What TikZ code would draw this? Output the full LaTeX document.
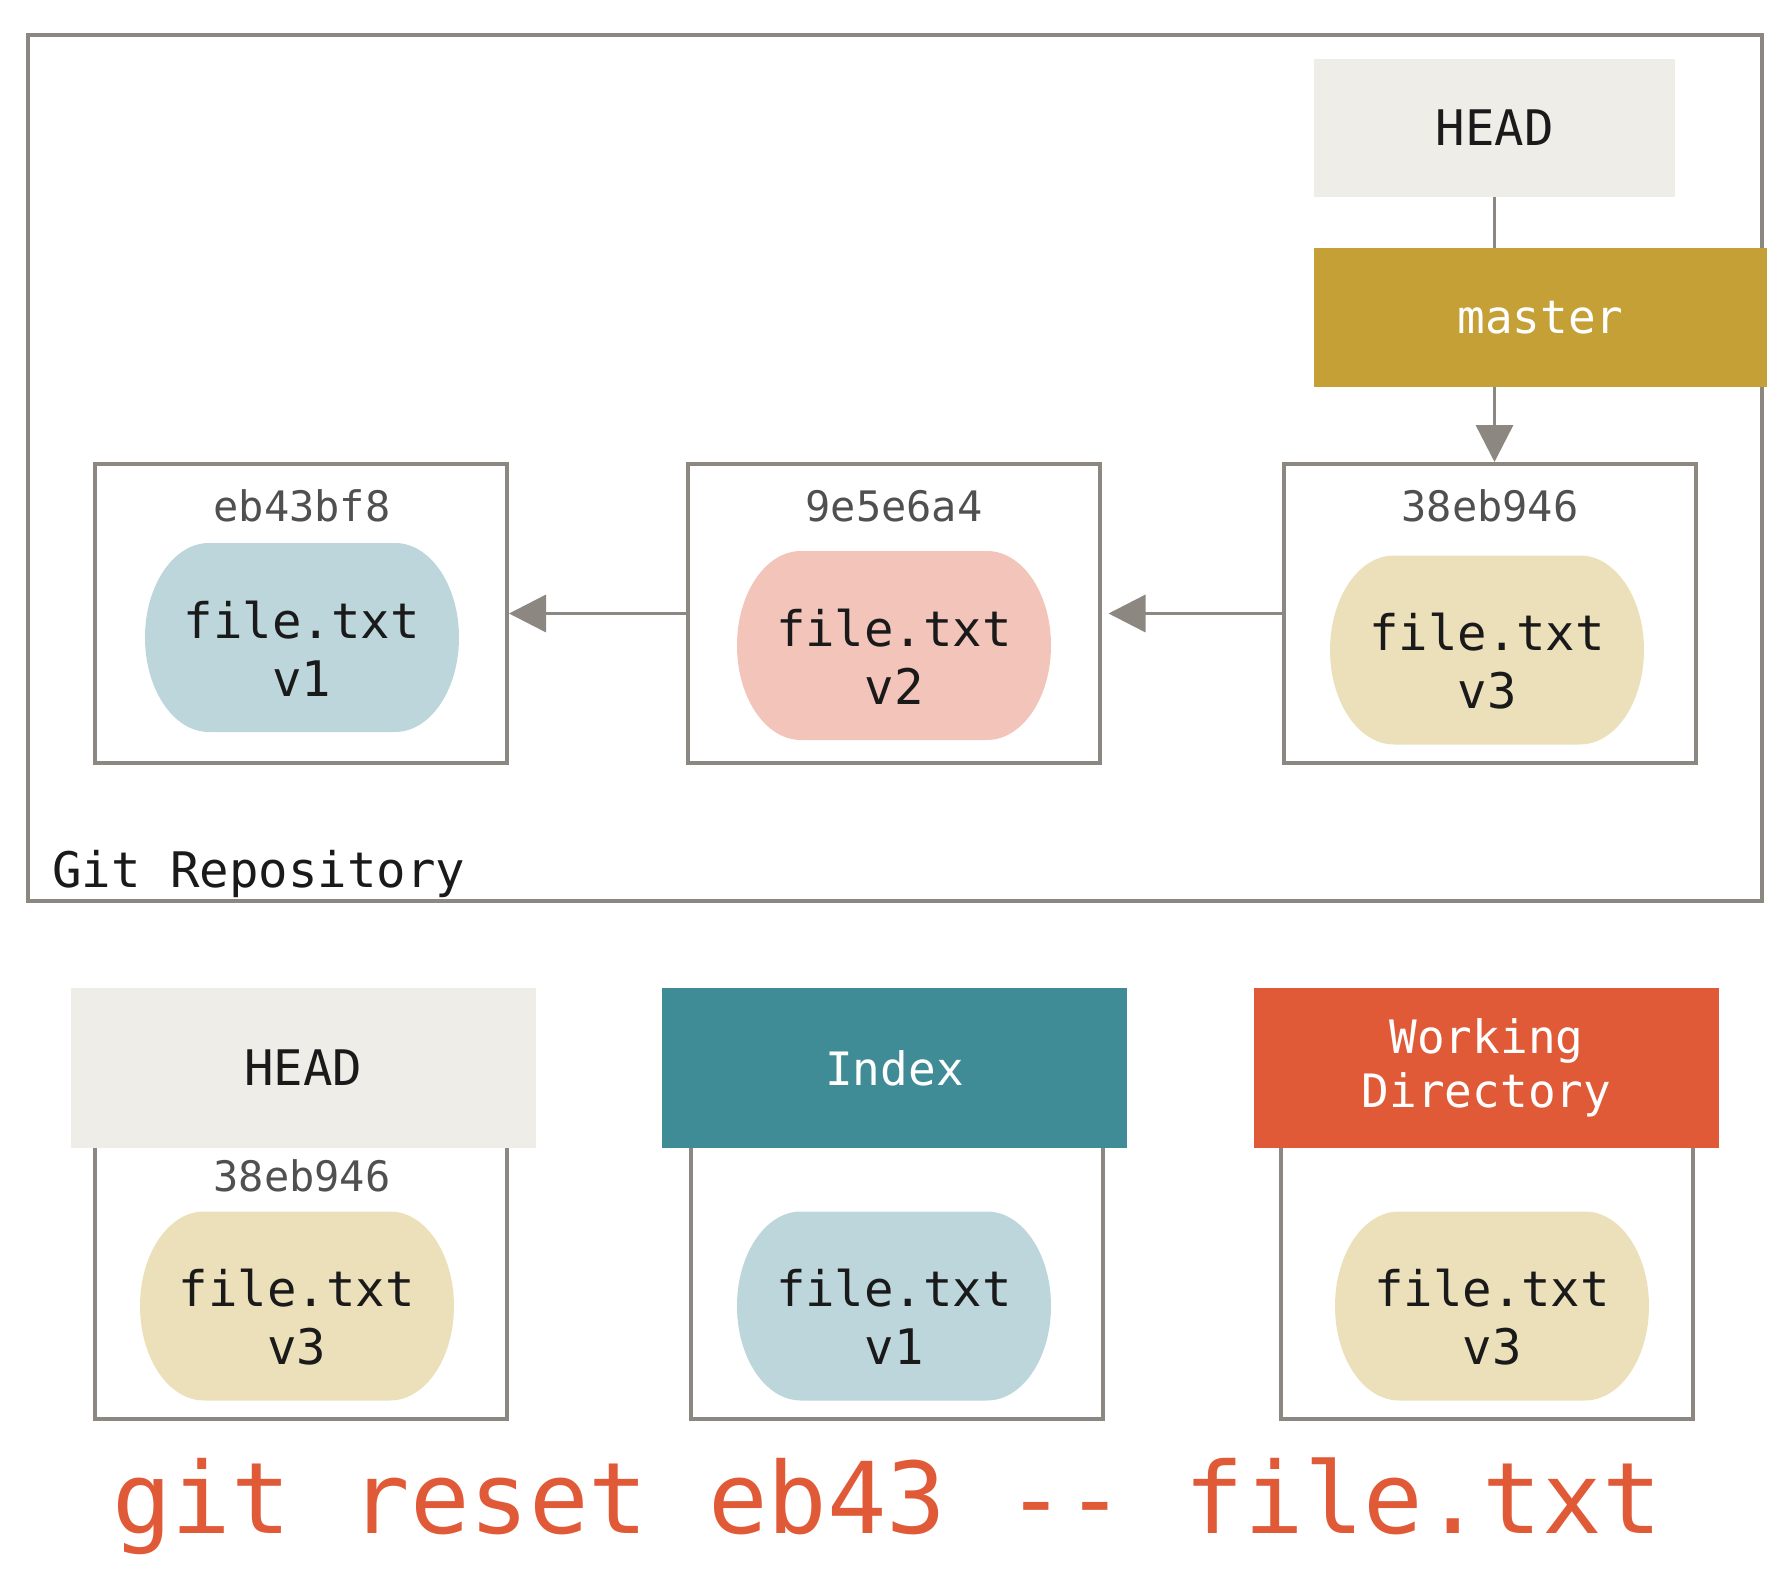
\documentclass[tikz,border=0pt]{standalone}
\usepackage{fontspec}
\setmonofont{DejaVu Sans Mono}
\usetikzlibrary{arrows.meta}
\definecolor{linegray}{RGB}{140,135,129}
\definecolor{headfill}{RGB}{238,237,232}
\definecolor{masterfill}{RGB}{196,160,54}
\definecolor{indexfill}{RGB}{64,140,150}
\definecolor{wdfill}{RGB}{224,90,56}
\definecolor{blueblob}{RGB}{188,214,219}
\definecolor{pinkblob}{RGB}{243,196,185}
\definecolor{tanblob}{RGB}{236,224,187}
\definecolor{hashgray}{RGB}{80,80,80}
\definecolor{cmdorange}{RGB}{224,90,56}
\definecolor{inkblack}{RGB}{26,26,26}
\newcommand\fs[2]{\fontsize{#1}{#2}\selectfont\ttfamily}
% name, x, y, colour, version
\newcommand\blobat[5]{%
  \fill[#4] (#2-93,#3-94.5) -- (#2+93,#3-94.5)
     arc[start angle=-90,end angle=90,x radius=64,y radius=94.5]
     -- (#2-93,#3+94.5)
     arc[start angle=90,end angle=270,x radius=64,y radius=94.5] -- cycle;
  \node[blobtext] (#1) at (#2,#3+11) {file.txt\\#5};
}
\begin{document}
\begin{tikzpicture}[x=0.5pt,y=-0.5pt,
  frame/.style={draw=linegray,line width=2pt,inner sep=0pt},
  commitbox/.style={frame,minimum width=206pt,minimum height=149.5pt},
  areabox/.style={frame,minimum width=206pt,minimum height=139.5pt},
  header/.style={inner sep=0pt,minimum width=232.5pt,minimum height=80pt,align=center,font=\fs{23}{27}},
  hashlabel/.style={inner sep=0pt,text=hashgray,font=\fs{21}{25}},
  blobtext/.style={inner sep=0pt,align=center,text=inkblack,font=\fs{24.5}{29}},
  link/.style={draw=linegray,line width=1.75pt},
  arrowlink/.style={link,-{Triangle[length=18.5pt,width=18.5pt]}},
]
\useasboundingbox (0,0) rectangle (1790,1574);

% repository frame
\node[frame,minimum width=867pt,minimum height=433pt] (repo) at (895,468) {};
\node[anchor=base west,inner sep=0pt,text=inkblack,font=\fs{24.5}{29}] (repolabel) at (52,887) {Git Repository};

% HEAD and master
\node[fill=headfill,text=inkblack,minimum width=180.5pt,minimum height=69pt,inner sep=0pt,font=\fs{24.5}{29}] (headtop) at (1494.5,128) {HEAD};
\node[fill=masterfill,text=white,minimum width=226.5pt,minimum height=69.5pt,inner sep=0pt,font=\fs{23}{27}] (master) at (1540.5,317.5) {master};

% commits
\node[commitbox] (c1) at (301,613.5) {};
\node[commitbox] (c2) at (893.5,613.5) {};
\node[commitbox] (c3) at (1490,613.5) {};
\node[hashlabel] (h1) at (302,506) {eb43bf8};
\node[hashlabel] (h2) at (894,506) {9e5e6a4};
\node[hashlabel] (h3) at (1490,506) {38eb946};
\blobat{f1}{302}{637.5}{blueblob}{v1}
\blobat{f2}{894}{645.5}{pinkblob}{v2}
\blobat{f3}{1487}{650}{tanblob}{v3}

% connectors
\draw[link] (headtop.south) -- (headtop.south |- master.north);
\draw[arrowlink] (headtop.south |- master.south) -- (headtop.south |- c3.north);
\draw[arrowlink] (c2.west) -- (c1.east);
\draw[arrowlink,shorten >=3.5pt] (c3.west) -- (c2.east);

% bottom areas
\node[areabox] (hb) at (301,1279.5) {};
\node[areabox] (ib) at (896.5,1279.5) {};
\node[areabox] (wb) at (1486.5,1279.5) {};
\node[header,fill=headfill,text=inkblack,font=\fs{24.5}{29}] (hh) at (303.5,1068) {HEAD};
\node[header,fill=indexfill,text=white] (ih) at (894.5,1068) {Index};
\node[header,fill=wdfill,text=white] (wh) at (1486.5,1068) {Working\\Directory};
\node[hashlabel] (hhash) at (302,1176) {38eb946};
\blobat{g1}{297}{1306}{tanblob}{v3}
\blobat{g2}{894}{1306}{blueblob}{v1}
\blobat{g3}{1492}{1306}{tanblob}{v3}

% command
\node[anchor=base,inner sep=0pt,text=cmdorange,font=\fs{49.5}{58}] (cmd) at (887,1533) {git reset eb43 -{}- file.txt};
\end{tikzpicture}
\end{document}
